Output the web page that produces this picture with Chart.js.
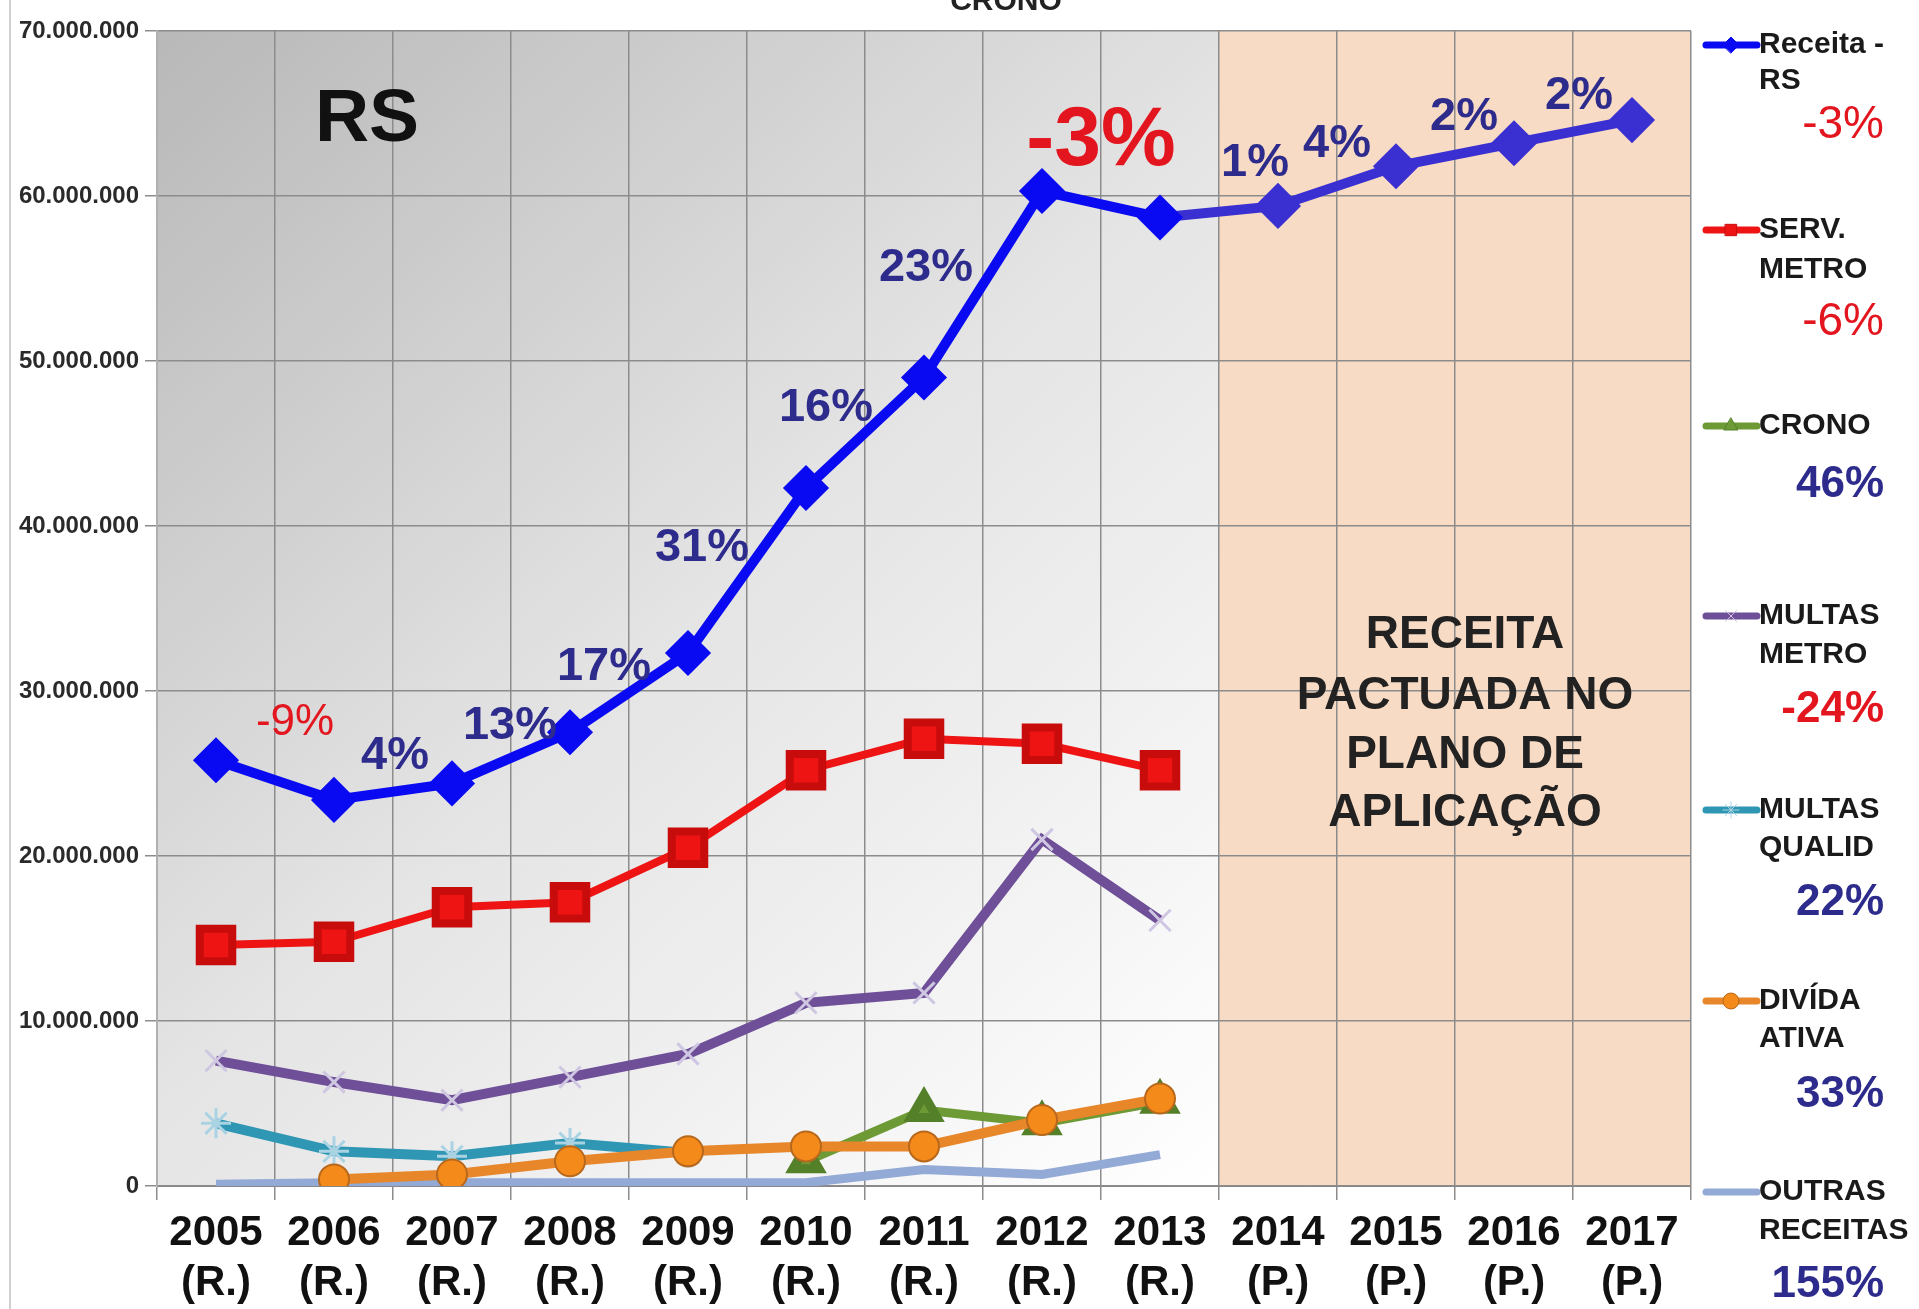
<!DOCTYPE html>
<html>
<head>
<meta charset="utf-8">
<title>Receita RS</title>
<script src="https://cdn.jsdelivr.net/npm/chart.js@4/dist/chart.umd.min.js"></script>
<style>
  body { margin: 0; background: #fff; }
  #wrap { position: relative; width: 1919px; height: 1309px; }
</style>
</head>
<body>
<div id="wrap"><canvas id="chart" width="1919" height="1309"></canvas></div>
<script>
// values (R$)
const years = ["2005", "2006", "2007", "2008", "2009", "2010", "2011", "2012", "2013", "2014", "2015", "2016", "2017"];
const periods = ["(R.)", "(R.)", "(R.)", "(R.)", "(R.)", "(R.)", "(R.)", "(R.)", "(R.)", "(P.)", "(P.)", "(P.)", "(P.)"];

const receitaRS = [25800000, 23400000, 24400000, 27500000, 32300000, 42300000, 49000000, 60300000, 58700000, 59400000, 61800000, 63200000, 64600000];
const servMetro = [14600000, 14800000, 16900000, 17200000, 20500000, 25200000, 27100000, 26800000, 25200000, null, null, null, null];
const crono = [null, null, null, null, null, 1500000, 4600000, 3800000, 5100000, null, null, null, null];
const multasMetro = [7600000, 6300000, 5200000, 6600000, 8000000, 11100000, 11700000, 21000000, 16100000, null, null, null, null];
const multasQualid = [3800000, 2100000, 1800000, 2600000, 2000000, null, null, null, null, null, null, null, null];
const dividaAtiva = [null, 400000, 700000, 1500000, 2100000, 2400000, 2400000, 4000000, 5300000, null, null, null, null];
const outrasReceitas = [100000, 200000, 200000, 200000, 200000, 200000, 1000000, 700000, 1900000, null, null, null, null];

// growth labels on the Receita line
const receitaPct = [null, "-9%", "4%", "13%", "17%", "31%", "16%", "23%", "-3%", "1%", "4%", "2%", "2%"];

// legend
const legendNames = [["Receita -", "RS"], ["SERV.", "METRO"], ["CRONO"], ["MULTAS", "METRO"], ["MULTAS", "QUALID"], ["DIVÍDA", "ATIVA"], ["OUTRAS", "RECEITAS"]];
const legendPct = ["-3%", "-6%", "46%", "-24%", "22%", "33%", "155%"];

const RED = "#e3161f";
const NAVY = "#2d2b8c";

const labels = years.map((y, i) => [y, periods[i]]);

// offset of each growth label from its point
const pctOffsets = [null, [-39, -77], [-57, -27], [-60, -6], [-84, 14], [-104, 60], [-98, 31], [-116, 77], [-59, -76], [-23, -43], [-59, -22], [-50, -26], [-53, -24]];

function fmt(v) {
  return String(v).replace(/\B(?=(\d{3})+(?!\d))/g, ".");
}

const bgPlugin = {
  id: "bg",
  beforeDraw(chart) {
    const { ctx, chartArea: a, scales: { x } } = chart;
    const split = (x.getPixelForValue(8) + x.getPixelForValue(9)) / 2;
    ctx.save();
    const g = ctx.createLinearGradient(a.left, a.top, split, a.bottom);
    g.addColorStop(0, "#b8b8b8");
    g.addColorStop(0.5, "#e4e4e4");
    g.addColorStop(1, "#ffffff");
    ctx.fillStyle = g;
    ctx.fillRect(a.left, a.top, split - a.left, a.bottom - a.top);
    ctx.fillStyle = "#f8dbc4";
    ctx.fillRect(split, a.top, a.right - split, a.bottom - a.top);
    // thin frame line at the left of the picture
    ctx.fillStyle = "#d0d0d0";
    ctx.fillRect(9, 0, 2, 1309);
    ctx.restore();
  }
};

const textPlugin = {
  id: "texts",
  afterDatasetsDraw(chart) {
    const { ctx } = chart;
    const meta = chart.getDatasetMeta(0);
    ctx.save();
    ctx.textAlign = "center";
    ctx.textBaseline = "middle";
    receitaPct.forEach((t, i) => {
      if (!t) return;
      const p = meta.data[i];
      const [dx, dy] = pctOffsets[i];
      if (i === 8) {
        ctx.font = "bold 84px 'Liberation Sans', Arial";
        ctx.fillStyle = RED;
      } else if (t.startsWith("-")) {
        ctx.font = "44px 'Liberation Sans', Arial";
        ctx.fillStyle = RED;
      } else {
        ctx.font = "bold 47px 'Liberation Sans', Arial";
        ctx.fillStyle = NAVY;
      }
      ctx.fillText(t, p.x + dx, p.y + dy);
    });

    ctx.fillStyle = "#111";
    ctx.font = "bold 75px 'Liberation Sans', Arial";
    ctx.fillText("RS", 367, 120);

    ctx.fillStyle = "#222";
    ctx.font = "bold 46px 'Liberation Sans', Arial";
    ["RECEITA", "PACTUADA NO", "PLANO DE", "APLICAÇÃO"].forEach((s, i) => {
      ctx.fillText(s, 1465, [635, 696, 755, 813][i]);
    });

    // title cut off at the top edge
    ctx.textBaseline = "alphabetic";
    ctx.font = "bold 30px 'Liberation Sans', Arial";
    ctx.fillText("CRONO", 1006, 10);
    ctx.restore();
  }
};

const legendPlugin = {
  id: "sideLegend",
  afterDraw(chart) {
    const { ctx } = chart;
    const nameY = [[45, 81], [230, 270], [426], [616, 655], [810, 848], [1001, 1039], [1192, 1231]];
    const pctY = [125, 322, 485, 710, 903, 1095, 1285];
    ctx.save();
    legendNames.forEach((lines, i) => {
      const ds = chart.data.datasets[i];
      const y0 = nameY[i][0];
      ctx.strokeStyle = ds.borderColor;
      ctx.lineWidth = 7;
      ctx.lineCap = "round";
      ctx.beginPath();
      ctx.moveTo(1706, y0);
      ctx.lineTo(1757, y0);
      ctx.stroke();
      if (ds.pointRadius > 0) {
        ctx.fillStyle = ds.pointBackgroundColor instanceof Array ? ds.pointBackgroundColor[0] : ds.pointBackgroundColor;
        ctx.strokeStyle = ds.pointBorderColor instanceof Array ? ds.pointBorderColor[0] : ds.pointBorderColor;
        ctx.lineWidth = 1;
        Chart.helpers.drawPoint(ctx, { pointStyle: ds.pointStyle, radius: 8, rotation: 0, borderWidth: 1 }, 1731, y0);
      }
      ctx.fillStyle = "#1a1a1a";
      ctx.textAlign = "left";
      ctx.textBaseline = "middle";
      ctx.font = "bold 30px 'Liberation Sans', Arial";
      lines.forEach((s, k) => ctx.fillText(s, 1759, nameY[i][k]));

      const t = legendPct[i];
      ctx.textAlign = "right";
      ctx.fillStyle = t.startsWith("-") ? RED : NAVY;
      ctx.font = i < 2 ? "46px 'Liberation Sans', Arial" : "bold 44px 'Liberation Sans', Arial";
      ctx.fillText(t, 1884, pctY[i]);
    });
    ctx.restore();
  }
};

const blueInPeach = "#3a30d2";

const config = {
  type: "line",
  data: {
    labels: labels,
    datasets: [
      {
        label: "Receita - RS",
        data: receitaRS,
        borderColor: "#0a0af2",
        borderWidth: 10,
        pointStyle: "rectRot",
        pointRadius: 16,
        pointBackgroundColor: receitaRS.map((v, i) => (i > 8 ? blueInPeach : "#0a0af2")),
        pointBorderColor: receitaRS.map((v, i) => (i > 8 ? blueInPeach : "#0a0af2")),
        segment: { borderColor: (c) => (c.p0DataIndex >= 8 ? blueInPeach : undefined) },
        order: 1
      },
      {
        label: "SERV. METRO",
        data: servMetro,
        borderColor: "#ee1414",
        borderWidth: 8,
        pointStyle: "rect",
        pointRadius: 23,
        pointBackgroundColor: "#ee1414",
        pointBorderColor: "#c80c0c",
        order: 2
      },
      {
        label: "CRONO",
        data: crono,
        borderColor: "#6e9a36",
        borderWidth: 9,
        pointStyle: "triangle",
        pointRadius: 15,
        pointBackgroundColor: "#6e9a36",
        pointBorderColor: "#55802a",
        order: 5
      },
      {
        label: "MULTAS METRO",
        data: multasMetro,
        borderColor: "#6e4f98",
        borderWidth: 10,
        pointStyle: "crossRot",
        pointRadius: 15,
        pointBackgroundColor: "#cfc6e2",
        pointBorderColor: "#cfc6e2",
        pointBorderWidth: 3,
        order: 3
      },
      {
        label: "MULTAS QUALID",
        data: multasQualid,
        borderColor: "#2f96b4",
        borderWidth: 10,
        pointStyle: "star",
        pointRadius: 15,
        pointBackgroundColor: "#a9d3e3",
        pointBorderColor: "#a9d3e3",
        pointBorderWidth: 3,
        order: 6
      },
      {
        label: "DIVÍDA ATIVA",
        data: dividaAtiva,
        borderColor: "#e8862a",
        borderWidth: 10,
        pointStyle: "circle",
        pointRadius: 15,
        pointBackgroundColor: "#f48a1a",
        pointBorderColor: "#b8681c",
        pointBorderWidth: 2,
        order: 4
      },
      {
        label: "OUTRAS RECEITAS",
        data: outrasReceitas,
        borderColor: "#93a9d6",
        borderWidth: 9,
        pointRadius: 0,
        order: 7
      }
    ]
  },
  options: {
    responsive: false,
    animation: false,
    layout: { padding: { left: 0, right: 228, top: 23, bottom: 0 } },
    plugins: {
      legend: { display: false },
      tooltip: { enabled: false }
    },
    scales: {
      x: {
        offset: true,
        grid: { offset: true, color: "#8c8c8c", lineWidth: 1.5, tickLength: 14 },
        border: { color: "#888" },
        ticks: {
          color: "#111",
          padding: 8,
          maxRotation: 0,
          autoSkip: false,
          font: { family: "'Liberation Sans', Arial", weight: "bold", size: 42, lineHeight: 1.2 }
        },
        afterFit(scale) { scale.height = 123; }
      },
      y: {
        min: 0,
        max: 70000000,
        grid: { color: "#8c8c8c", lineWidth: 1.5, tickLength: 12 },
        border: { color: "#b0b0b0", width: 2 },
        ticks: {
          stepSize: 10000000,
          color: "#2a2a2a",
          padding: 6,
          font: { family: "'Liberation Sans', Arial", weight: "bold", size: 24 },
          callback: (v) => fmt(v)
        },
        afterFit(scale) {
          scale.width = 157;
          scale.paddingTop = 0;
          scale.paddingBottom = 0;
        }
      }
    }
  },
  plugins: [bgPlugin, textPlugin, legendPlugin]
};

new Chart(document.getElementById("chart"), config);
</script>
</body>
</html>
